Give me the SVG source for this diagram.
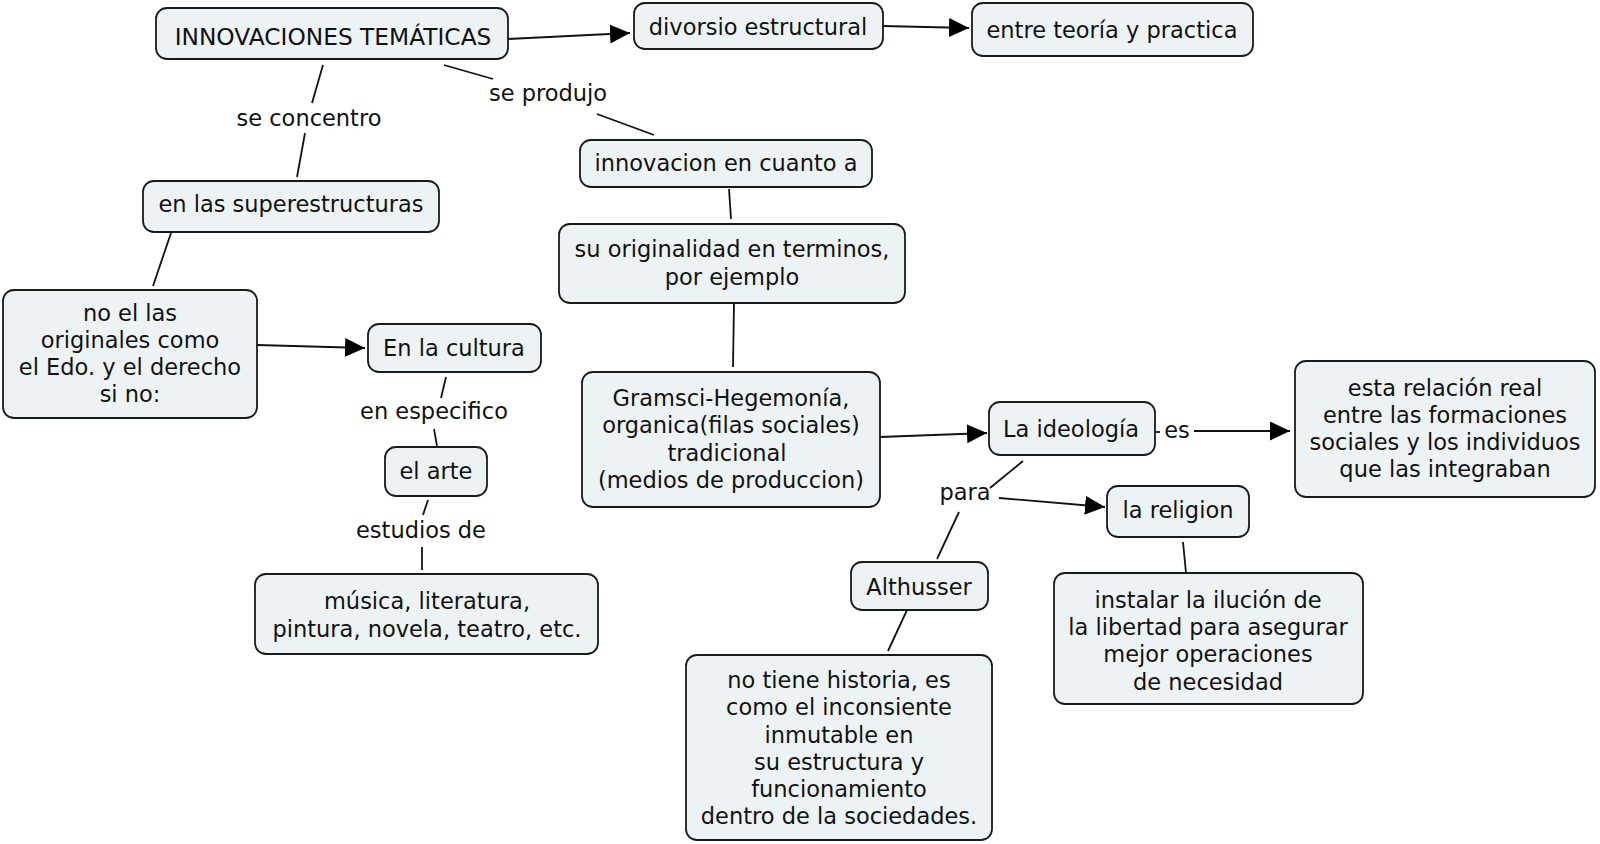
<svg xmlns="http://www.w3.org/2000/svg" width="1600" height="844" viewBox="0 0 1600 844">
<defs>
<style>
.n rect{fill:#edf3f5;stroke:#1a1a1a;stroke-width:1.8}
text{font-family:"DejaVu Sans","Verdana",sans-serif;font-size:22.5px;fill:#111;text-anchor:middle}
.c line{stroke:#111;stroke-width:1.8}
.lb{fill:#111}
</style>
<marker id="arr" viewBox="0 0 20 19" refX="20" refY="9.5" markerWidth="20" markerHeight="19" markerUnits="userSpaceOnUse" orient="auto">
<path d="M0,0 L20,9.5 L0,19 z" fill="#000"/>
</marker>
</defs>
<rect width="1600" height="844" fill="#fff"/>

<g class="c" id="connectors">
<line x1="508" y1="39" x2="630" y2="33" marker-end="url(#arr)"/>
<line x1="883" y1="26" x2="969" y2="28" marker-end="url(#arr)"/>
<line x1="323" y1="65" x2="312" y2="103"/>
<line x1="305" y1="133" x2="297" y2="177"/>
<line x1="444" y1="65" x2="493" y2="79"/>
<line x1="597" y1="114" x2="654" y2="135"/>
<line x1="729" y1="189" x2="731" y2="219"/>
<line x1="734" y1="303" x2="733" y2="367"/>
<line x1="171" y1="233" x2="153" y2="286"/>
<line x1="257" y1="345" x2="365" y2="348" marker-end="url(#arr)"/>
<line x1="446" y1="377" x2="441" y2="398"/>
<line x1="434" y1="429" x2="437" y2="446"/>
<line x1="428" y1="500" x2="423" y2="515"/>
<line x1="422" y1="547" x2="422" y2="570"/>
<line x1="880" y1="437" x2="987" y2="433" marker-end="url(#arr)"/>
<line x1="1156" y1="432" x2="1160" y2="432"/>
<line x1="1194" y1="431" x2="1290" y2="431" marker-end="url(#arr)"/>
<line x1="1023" y1="461" x2="990" y2="488"/>
<line x1="999" y1="498" x2="1105" y2="507" marker-end="url(#arr)"/>
<line x1="959" y1="512" x2="937" y2="559"/>
<line x1="1183" y1="542" x2="1186" y2="573"/>
<line x1="907" y1="610" x2="888" y2="651"/>
<text class="lb" x="309" y="126">se concentro</text>
<text class="lb" x="548" y="101">se produjo</text>
<text class="lb" x="434" y="419">en especifico</text>
<text class="lb" x="421" y="538">estudios de</text>
<text class="lb" x="1177" y="438">es</text>
<text class="lb" x="965" y="500">para</text>
</g>

<g class="n" id="n1"><rect x="156" y="8" width="352" height="51" rx="11"/><text x="333" y="45" style="font-size:23.3px">INNOVACIONES TEMÁTICAS</text></g>
<g class="n" id="n2"><rect x="634" y="3" width="249" height="46" rx="11"/><text x="758" y="35">divorsio estructural</text></g>
<g class="n" id="n3"><rect x="972" y="3" width="281" height="53" rx="11"/><text x="1112" y="38">entre teoría y practica</text></g>
<g class="n" id="n4"><rect x="143" y="181" width="296" height="51" rx="11"/><text x="291" y="212">en las superestructuras</text></g>
<g class="n" id="n5"><rect x="580" y="140" width="292" height="47" rx="11"/><text x="726" y="171">innovacion en cuanto a</text></g>
<g class="n" id="n6"><rect x="559" y="224" width="346" height="79" rx="11"/><text x="732" y="257">su originalidad en terminos,</text><text x="732" y="285">por ejemplo</text></g>
<g class="n" id="n7"><rect x="3" y="290" width="254" height="128" rx="11"/><text x="130" y="321">no el las</text><text x="130" y="348">originales como</text><text x="130" y="375">el Edo. y el derecho</text><text x="130" y="402">si no:</text></g>
<g class="n" id="n8"><rect x="368" y="324" width="173" height="48" rx="11"/><text x="454" y="356">En la cultura</text></g>
<g class="n" id="n9"><rect x="385" y="447" width="102" height="49" rx="11"/><text x="436" y="479">el arte</text></g>
<g class="n" id="n10"><rect x="255" y="574" width="343" height="80" rx="11"/><text x="427" y="609">música, literatura,</text><text x="427" y="637">pintura, novela, teatro, etc.</text></g>
<g class="n" id="n11"><rect x="582" y="372" width="298" height="135" rx="11"/><text x="731" y="406">Gramsci-Hegemonía,</text><text x="731" y="433">organica(filas sociales)</text><text x="727" y="461">tradicional</text><text x="731" y="488">(medios de produccion)</text></g>
<g class="n" id="n12"><rect x="989" y="402" width="166" height="53" rx="11"/><text x="1071" y="437">La ideología</text></g>
<g class="n" id="n13"><rect x="1295" y="361" width="300" height="136" rx="11"/><text x="1445" y="396">esta relación real</text><text x="1445" y="423">entre las formaciones</text><text x="1445" y="450">sociales y los individuos</text><text x="1445" y="477">que las integraban</text></g>
<g class="n" id="n14"><rect x="1107" y="486" width="142" height="51" rx="11"/><text x="1178" y="518">la religion</text></g>
<g class="n" id="n15"><rect x="851" y="562" width="137" height="48" rx="11"/><text x="919" y="595">Althusser</text></g>
<g class="n" id="n16"><rect x="1054" y="573" width="309" height="131" rx="11"/><text x="1208" y="608">instalar la ilución de</text><text x="1208" y="635">la libertad para asegurar</text><text x="1208" y="662">mejor operaciones</text><text x="1208" y="690">de necesidad</text></g>
<g class="n" id="n17"><rect x="686" y="655" width="306" height="185" rx="11"/><text x="839" y="688">no tiene historia, es</text><text x="839" y="715">como el inconsiente</text><text x="839" y="743">inmutable en</text><text x="839" y="770">su estructura y</text><text x="839" y="797">funcionamiento</text><text x="839" y="824">dentro de la sociedades.</text></g>
</svg>
